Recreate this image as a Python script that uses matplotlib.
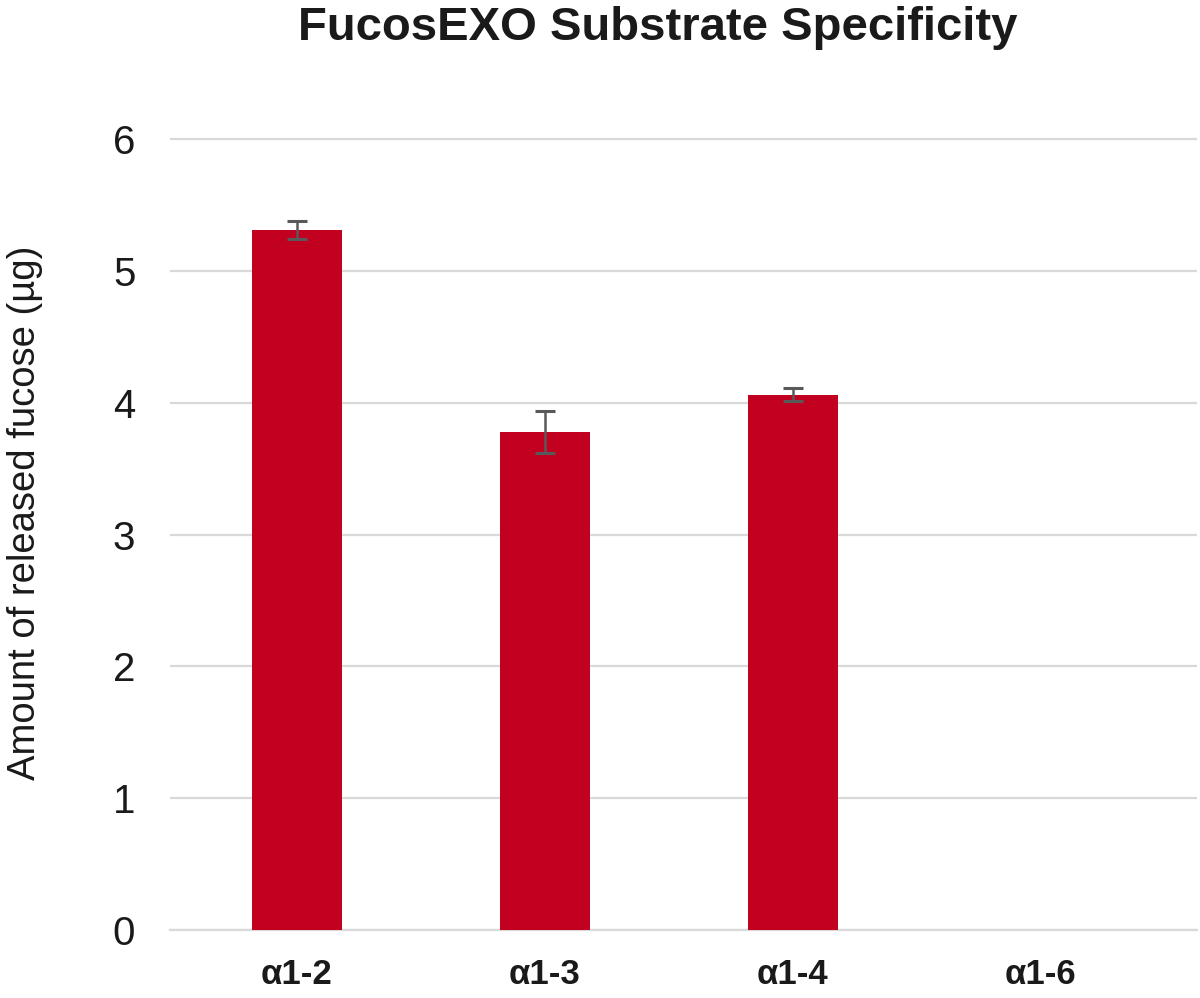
import matplotlib
matplotlib.use("Agg")
import matplotlib.pyplot as plt
import numpy as np

plt.rcParams.update({
    "font.family": ["Liberation Sans", "DejaVu Sans"],
})

categories = ["α1-2", "α1-3", "α1-4", "α1-6"]
fucose_ug = [5.31, 3.78, 4.06, 0.0]
fucose_err = [0.07, 0.16, 0.05, 0.0]
y_ticks = [0, 1, 2, 3, 4, 5, 6]

BAR_COLOR = "#C20020"
ERR_COLOR = "#595959"
GRID_COLOR = "#D9D9D9"
TEXT_COLOR = "#1a1a1a"

fig = plt.figure(figsize=(12, 9.98), dpi=100)
ax = fig.add_axes([0.1417, 0.0681, 0.8558, 0.7992])

x = np.arange(len(categories))
ax.bar(x[:3], fucose_ug[:3], width=0.365, color=BAR_COLOR, zorder=3)
ax.errorbar(x[:3], fucose_ug[:3], yerr=fucose_err[:3], fmt="none",
            ecolor=ERR_COLOR, elinewidth=1.8, capsize=7.5, capthick=2.2,
            zorder=4)

ax.set_xlim(-0.512, 3.63)
ax.set_ylim(0, 6.05)
ax.set_yticks(y_ticks)
ax.set_xticks(x)
ax.set_xticklabels(categories, fontsize=25, fontweight="bold", color=TEXT_COLOR)
ax.tick_params(axis="y", labelsize=29, length=0, pad=25, labelcolor=TEXT_COLOR)
ax.tick_params(axis="x", length=0, pad=20)

ax.grid(axis="y", color=GRID_COLOR, linewidth=1.6, zorder=0)
for side in ["top", "right", "left"]:
    ax.spines[side].set_visible(False)
ax.spines["bottom"].set_color(GRID_COLOR)
ax.spines["bottom"].set_linewidth(1.6)

ax.set_ylabel("Amount of released fucose (µg)", fontsize=27.5, color=TEXT_COLOR)
ax.yaxis.set_label_coords(-0.124, 0.523)
fig.text(0.548, 0.972, "FucosEXO Substrate Specificity", fontsize=34,
         fontweight="bold", ha="center", va="center", color=TEXT_COLOR)

fig.savefig("out.png", dpi=100, facecolor="white")
